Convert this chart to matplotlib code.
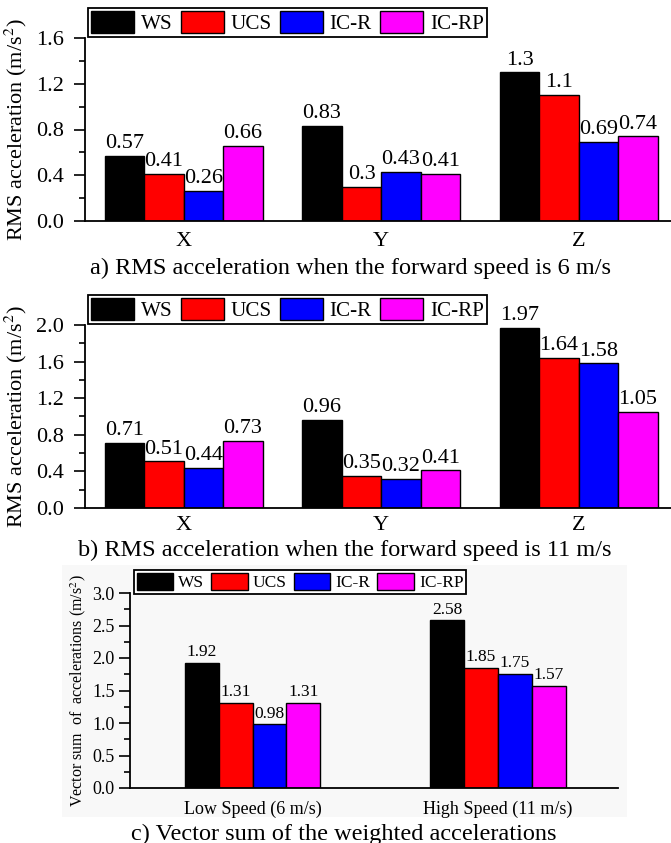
import matplotlib
matplotlib.use('Agg')
import matplotlib.pyplot as plt
import numpy as np
from matplotlib.ticker import MultipleLocator
from matplotlib.patches import Rectangle

plt.rcParams['font.family'] = ['Liberation Serif', 'DejaVu Serif']
plt.rcParams['mathtext.fontset'] = 'stix'

# Data
series = ['WS', 'UCS', 'IC-R', 'IC-RP']
colors = ['#000000', '#ff0000', '#0000ff', '#ff00ff']

axes_ab = ['X', 'Y', 'Z']
rms_6 = {'WS': [0.57, 0.83, 1.3], 'UCS': [0.41, 0.3, 1.1],
         'IC-R': [0.26, 0.43, 0.69], 'IC-RP': [0.66, 0.41, 0.74]}
rms_11 = {'WS': [0.71, 0.96, 1.97], 'UCS': [0.51, 0.35, 1.64],
          'IC-R': [0.44, 0.32, 1.58], 'IC-RP': [0.73, 0.41, 1.05]}

speeds = ['Low Speed (6 m/s)', 'High Speed (11 m/s)']
vsum = {'WS': [1.92, 2.58], 'UCS': [1.31, 1.85],
        'IC-R': [0.98, 1.75], 'IC-RP': [1.31, 1.57]}

W, H = 671, 843
fig = plt.figure(figsize=(W / 100, H / 100), dpi=100)


def px_axes(left, right, top, bottom):
    return fig.add_axes([left / W, 1 - bottom / H, (right - left) / W, (bottom - top) / H])


def grouped(ax, cats, data, width, fs_val):
    x = np.arange(len(cats))
    for i, (name, col) in enumerate(zip(series, colors)):
        bars = ax.bar(x + (i - 1.5) * width, data[name], width, color=col,
                      edgecolor='black', linewidth=1, label=name)
        ax.bar_label(bars, labels=['{:g}'.format(v) for v in data[name]],
                     padding=2, fontsize=fs_val)
    ax.set_xticks(x)
    ax.set_xticklabels(cats)
    ax.spines['top'].set_visible(False)
    ax.spines['right'].set_visible(False)
    ax.spines['left'].set_linewidth(1.3)
    ax.spines['bottom'].set_linewidth(1.3)
    ax.tick_params(axis='x', length=0)
    ax.tick_params(axis='y', which='major', direction='out', length=8, width=1.2, pad=7)
    ax.tick_params(axis='y', which='minor', direction='out', length=4.5, width=1.2)


def legend(ax, x0, y0, fs, hl, hh):
    ax.legend(loc='upper left', bbox_to_anchor=(x0 / W, 1 - y0 / H),
              bbox_transform=fig.transFigure, ncol=4, fontsize=fs,
              frameon=True, fancybox=False, framealpha=1, edgecolor='black',
              borderpad=0.15, handlelength=hl, handleheight=hh,
              handletextpad=0.3, columnspacing=0.4, borderaxespad=0)
    ax.get_legend().get_frame().set_linewidth(1.3)


# faint grey backdrop of panel c
fig.patches.append(Rectangle((62 / W, 1 - 817 / H), (627 - 62) / W, (817 - 565) / H,
                             transform=fig.transFigure, facecolor='#f8f8f8',
                             edgecolor='none', zorder=-5))

# a) 6 m/s
ax1 = px_axes(85, 671, 38, 221)
grouped(ax1, axes_ab, rms_6, 0.2, 16)
ax1.set_xlim(-0.5, 2.467)
ax1.set_ylim(0, 1.6)
ax1.yaxis.set_major_locator(MultipleLocator(0.4))
ax1.yaxis.set_minor_locator(MultipleLocator(0.2))
ax1.yaxis.set_major_formatter('{x:.1f}')
ax1.tick_params(labelsize=16)
ax1.tick_params(axis='x', pad=8)
ax1.set_ylabel('RMS acceleration (m/s$^2$)', fontsize=16)
ax1.yaxis.set_label_coords(-0.095, 0.5)
legend(ax1, 88, 8, 15.2, 2.05, 1.2)
fig.text(351 / W, 1 - 268 / H, 'a) RMS acceleration when the forward speed is 6 m/s',
         ha='center', va='center', fontsize=17.5)

# b) 11 m/s
ax2 = px_axes(85, 671, 325, 508)
grouped(ax2, axes_ab, rms_11, 0.2, 16)
ax2.set_xlim(-0.5, 2.467)
ax2.set_ylim(0, 2.0)
ax2.yaxis.set_major_locator(MultipleLocator(0.4))
ax2.yaxis.set_minor_locator(MultipleLocator(0.2))
ax2.yaxis.set_major_formatter('{x:.1f}')
ax2.tick_params(labelsize=16)
ax2.tick_params(axis='x', pad=6)
ax2.set_ylabel('RMS acceleration (m/s$^2$)', fontsize=16)
ax2.yaxis.set_label_coords(-0.095, 0.5)
legend(ax2, 88, 295, 15.2, 2.05, 1.2)
fig.text(345 / W, 1 - 550 / H, 'b) RMS acceleration when the forward speed is 11 m/s',
         ha='center', va='center', fontsize=17.5)

# c) vector sum
ax3 = px_axes(130, 618, 593, 788)
ax3.patch.set_alpha(0)
grouped(ax3, speeds, vsum, 0.138, 12.5)
ax3.set_xlim(-0.5, 1.49)
ax3.set_ylim(0, 3.0)
ax3.yaxis.set_major_locator(MultipleLocator(0.5))
ax3.yaxis.set_minor_locator(MultipleLocator(0.25))
ax3.yaxis.set_major_formatter('{x:.1f}')
ax3.tick_params(labelsize=13)
ax3.tick_params(axis='y', pad=3)
ax3.tick_params(axis='x', pad=9)
ax3.set_ylabel('Vector sum  of  accelerations (m/s$^2$)', fontsize=11.5)
ax3.yaxis.set_label_coords(-0.086, 0.5)
legend(ax3, 134, 570, 12.5, 2.1, 1.15)
fig.text(344 / W, 1 - 834 / H, 'c) Vector sum of the weighted accelerations',
         ha='center', va='center', fontsize=17.5)

fig.savefig('out.png', dpi=100)
